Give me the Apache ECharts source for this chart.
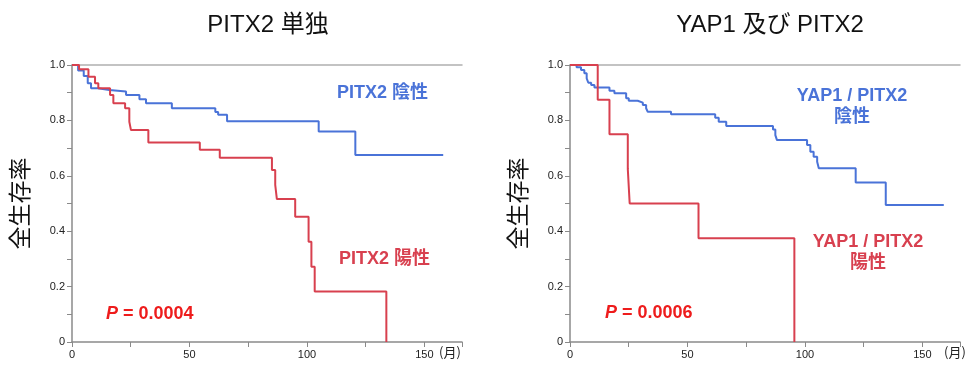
<!DOCTYPE html>
<html>
<head>
<meta charset="utf-8">
<script src="https://cdn.jsdelivr.net/npm/echarts@6/dist/echarts.min.js"></script>
<style>
  html, body { margin: 0; padding: 0; background: #fff; }
  #chart { width: 973px; height: 369px; }
</style>
</head>
<body>
<div id="chart"></div>
<script>
// 左: PITX2 単独
const pitxNegTime = [0, 2.6, 5, 6.7, 8.1, 11, 15.9, 23, 28.7, 31.5, 42.5, 61, 62.2, 66, 105, 120.6, 158];
const pitxNegSurv = [1.0, 0.98, 0.96, 0.934, 0.916, 0.91, 0.904, 0.892, 0.876, 0.862, 0.844, 0.83, 0.82, 0.797, 0.76, 0.675, 0.675];
const pitxPosTime = [0, 3, 7, 9.8, 11.2, 16.2, 17.6, 22.6, 24.4, 25.1, 32.5, 54.4, 62.9, 85.1, 86.5, 87.2, 95, 100.7, 101.9, 103.3, 133.8];
const pitxPosSurv = [1.0, 0.985, 0.958, 0.934, 0.916, 0.892, 0.862, 0.844, 0.795, 0.765, 0.72, 0.694, 0.665, 0.621, 0.567, 0.516, 0.452, 0.362, 0.272, 0.182, 0];

// 右: YAP1 及び PITX2
const bothNegTime = [0, 2.8, 4.7, 6.1, 7.1, 7.8, 9, 10.4, 16.8, 18.9, 23.9, 25, 28.8, 31, 32.4, 33.1, 43, 61.8, 63.3, 66.5, 86.4, 87.4, 88.1, 100.9, 102.3, 103.7, 105.2, 105.9, 121.6, 134.4, 159.1];
const bothNegSurv = [1.0, 0.992, 0.982, 0.97, 0.952, 0.936, 0.928, 0.919, 0.907, 0.898, 0.88, 0.871, 0.864, 0.856, 0.844, 0.831, 0.822, 0.81, 0.795, 0.78, 0.767, 0.747, 0.729, 0.711, 0.687, 0.669, 0.651, 0.627, 0.576, 0.495, 0.495];
const bothPosTime = [0, 11.8, 16.8, 24.6, 25.4, 54.7, 95.5];
const bothPosSurv = [1.0, 0.875, 0.75, 0.625, 0.5, 0.375, 0];

const xTicks = [0, 50, 100, 150];
const yTicks = [0, 0.2, 0.4, 0.6, 0.8, 1.0];

const BLUE = '#4a73d8';
const RED = '#d8404f';
const AXIS = '#8a8a8a';
const FONT = '"Liberation Sans", "Noto Sans CJK JP", sans-serif';

function pairs(t, s) {
    return t.map((v, i) => [v, s[i]]);
}

function xAxisFor(gridIndex) {
    return {
        type: 'value',
        gridIndex: gridIndex,
        min: 0,
        max: 166,
        interval: 50,
        axisLine: { lineStyle: { color: AXIS, width: 1.5 } },
        axisTick: { length: 5, lineStyle: { color: AXIS } },
        minorTick: { show: true, splitNumber: 2, length: 5, lineStyle: { color: AXIS } },
        splitLine: { show: false },
        axisLabel: {
            color: '#222', fontSize: 11, fontFamily: FONT, margin: 7,
            formatter: v => (xTicks.includes(v) ? String(v) : '')
        }
    };
}

function topAxisFor(gridIndex) {
    return {
        type: 'value',
        gridIndex: gridIndex,
        position: 'top',
        min: 0,
        max: 166,
        axisLine: { show: true, lineStyle: { color: '#b0b0b0', width: 1.5 } },
        axisTick: { show: false },
        axisLabel: { show: false },
        splitLine: { show: false }
    };
}

function yAxisFor(gridIndex) {
    return {
        type: 'value',
        gridIndex: gridIndex,
        min: 0,
        max: 1,
        interval: 0.2,
        name: '全生存率',
        nameLocation: 'middle',
        nameRotate: 90,
        nameGap: 41,
        nameTextStyle: { fontSize: 23, color: '#111', fontFamily: '"Noto Sans CJK JP", sans-serif' },
        axisLine: { show: true, lineStyle: { color: AXIS, width: 1.5 } },
        axisTick: { show: true, length: 5, lineStyle: { color: AXIS } },
        minorTick: { show: true, splitNumber: 2, length: 5, lineStyle: { color: AXIS } },
        splitLine: { show: false },
        axisLabel: {
            color: '#222', fontSize: 11, fontFamily: FONT, margin: 7,
            formatter: v => {
                if (!yTicks.some(t => Math.abs(t - v) < 1e-6)) return '';
                return v === 0 ? '0' : v.toFixed(1);
            }
        }
    };
}

function kmSeries(name, t, s, color, axisIndex) {
    return {
        name: name,
        type: 'line',
        step: 'end',
        xAxisIndex: axisIndex,
        yAxisIndex: axisIndex,
        data: pairs(t, s),
        showSymbol: false,
        lineStyle: { color: color, width: 2 },
        itemStyle: { color: color },
        animation: false
    };
}

function label(x, y, text, color, align) {
    return {
        type: 'text', x: x, y: y,
        style: { text: text, fill: color, font: 'bold 18px ' + FONT,
                 align: align, verticalAlign: 'middle', lineHeight: 21 }
    };
}

function pLabel(x, y, value) {
    return {
        type: 'text', x: x, y: y,
        style: {
            text: '{p|P}{v| = ' + value + '}',
            verticalAlign: 'middle',
            rich: {
                p: { fill: '#ee1c1c', font: 'italic bold 18px "Liberation Sans", sans-serif' },
                v: { fill: '#ee1c1c', font: 'bold 18px "Liberation Sans", sans-serif' }
            }
        }
    };
}

const chart = echarts.init(document.getElementById('chart'));

chart.setOption({
    backgroundColor: '#fff',
    title: [
        { text: 'PITX2 単独', left: 263, top: 8, textAlign: 'center',
          textStyle: { fontSize: 24, fontWeight: 'normal', color: '#111', fontFamily: FONT } },
        { text: 'YAP1 及び PITX2', left: 765, top: 8, textAlign: 'center',
          textStyle: { fontSize: 24, fontWeight: 'normal', color: '#111', fontFamily: FONT } }
    ],
    grid: [
        { left: 72, top: 65, width: 390, height: 277 },
        { left: 570, top: 65, width: 390, height: 277 }
    ],
    xAxis: [xAxisFor(0), xAxisFor(1), topAxisFor(0), topAxisFor(1)],
    yAxis: [yAxisFor(0), yAxisFor(1)],
    series: [
        kmSeries('PITX2 陰性', pitxNegTime, pitxNegSurv, BLUE, 0),
        kmSeries('PITX2 陽性', pitxPosTime, pitxPosSurv, RED, 0),
        kmSeries('YAP1 / PITX2 陰性', bothNegTime, bothNegSurv, BLUE, 1),
        kmSeries('YAP1 / PITX2 陽性', bothPosTime, bothPosSurv, RED, 1)
    ],
    graphic: [
        label(337, 93, 'PITX2 陰性', BLUE, 'left'),
        label(339, 259, 'PITX2 陽性', RED, 'left'),
        label(852, 107, 'YAP1 / PITX2\n陰性', BLUE, 'center'),
        label(868, 253, 'YAP1 / PITX2\n陽性', RED, 'center'),
        pLabel(106, 314, '0.0004'),
        pLabel(605, 313, '0.0006'),
        { type: 'text', left: 439, top: 346,
          style: { text: '(月)', fill: '#222', font: '13px "Noto Sans CJK JP", sans-serif' } },
        { type: 'text', left: 944, top: 346,
          style: { text: '(月)', fill: '#222', font: '13px "Noto Sans CJK JP", sans-serif' } }
    ]
});
</script>
</body>
</html>
